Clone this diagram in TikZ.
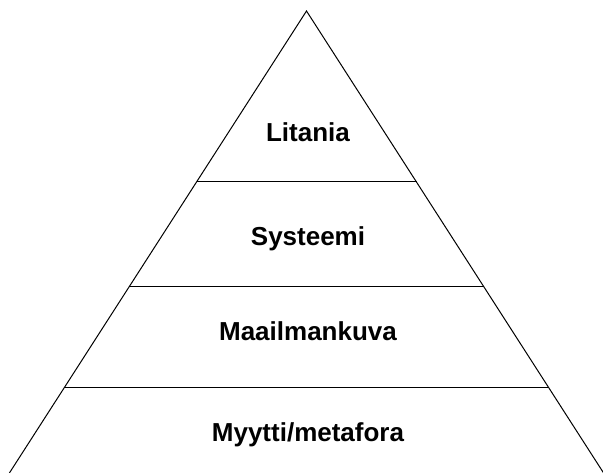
\documentclass[tikz,border=0pt]{standalone}
\usepackage{fontspec}
\setmainfont{Liberation Sans}
\begin{document}
\begin{tikzpicture}[x=1pt,y=-1pt,
  lbl/.style={font=\bfseries\fontsize{26}{30}\selectfont, anchor=base, inner sep=0pt},
  edge/.style={line width=1pt, black}]
\useasboundingbox (0,0) rectangle (603,473);
\clip (0,0) rectangle (603,473);
\coordinate (apex) at (306.5,11);
\coordinate (bl) at (9.4,473);
\coordinate (br) at (603.6,473);
\draw[edge] (bl) -- (apex) -- (br);
\coordinate (l1) at (196.5,182);
\coordinate (r1) at (416.5,182);
\coordinate (l2) at (129,287);
\coordinate (r2) at (484,287);
\coordinate (l3) at (64.7,387);
\coordinate (r3) at (548.3,387);
\draw[edge] (l1) -- (r1);
\draw[edge] (l2) -- (r2);
\draw[edge] (l3) -- (r3);
\node[lbl] (litania) at (308,142) {Litania};
\node[lbl] (systeemi) at (308,246) {Systeemi};
\node[lbl] (maailmankuva) at (308,341) {Maailmankuva};
\node[lbl] (myytti) at (308,441) {Myytti/metafora};
\end{tikzpicture}
\end{document}
